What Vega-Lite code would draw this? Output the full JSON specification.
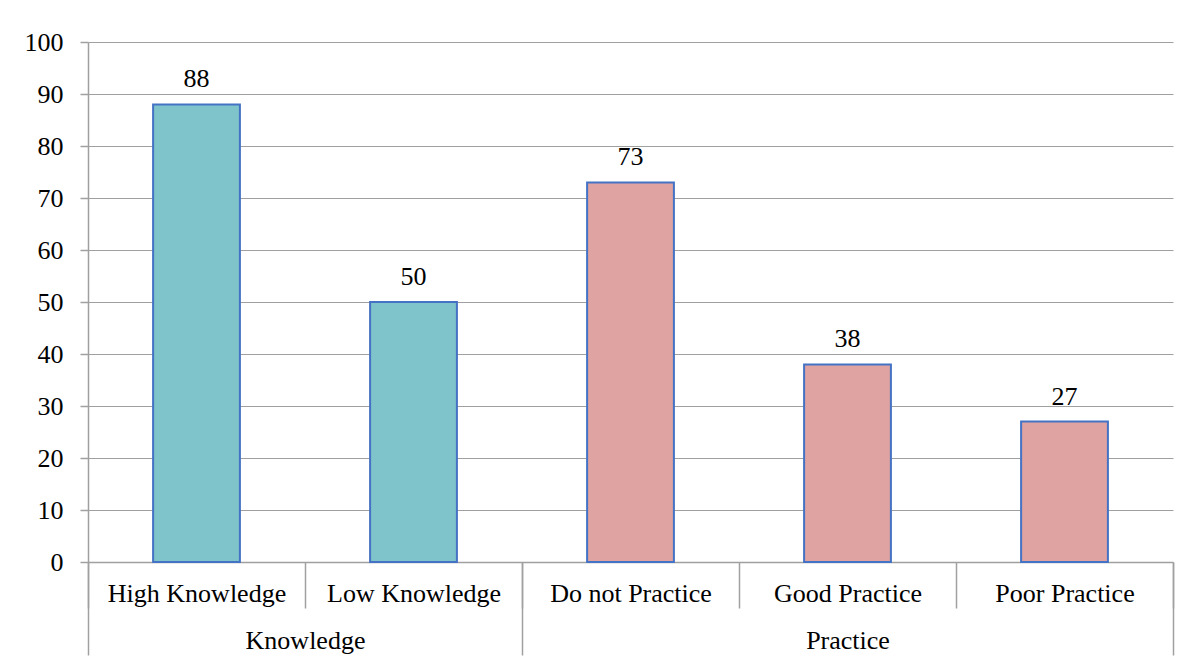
{
  "$schema": "https://vega.github.io/schema/vega-lite/v6.json",
  "width": 1085,
  "height": 520,
  "autosize": {"type": "none"},
  "padding": {"left": 88, "top": 42, "right": 16, "bottom": 100},
  "background": "white",
  "config": {
    "view": {"stroke": null},
    "font": "Liberation Serif",
    "text": {"font": "Liberation Serif"},
    "axis": {"labelFont": "Liberation Serif", "labelFontSize": 26, "labelColor": "black", "domainColor": "#a0a0a0", "tickColor": "#a0a0a0", "gridColor": "#a0a0a0", "domainWidth": 1.5, "tickWidth": 1.5, "gridWidth": 1.2}
  },
  "data": {
    "values": [
      {"category": "High Knowledge", "group": "Knowledge", "value": 88},
      {"category": "Low Knowledge", "group": "Knowledge", "value": 50},
      {"category": "Do not Practice", "group": "Practice", "value": 73},
      {"category": "Good Practice", "group": "Practice", "value": 38},
      {"category": "Poor Practice", "group": "Practice", "value": 27}
    ]
  },
  "resolve": {"axis": {"x": "independent"}},
  "layer": [
    {
      "mark": {"type": "bar", "width": {"band": 0.4}, "stroke": "#4472c4", "strokeWidth": 2},
      "encoding": {
        "x": {
          "field": "category", "type": "nominal", "sort": null,
          "scale": {"paddingInner": 0, "paddingOuter": 0},
          "axis": {"title": null, "orient": "bottom", "labelAngle": 0, "tickBand": "extent", "tickSize": 46, "labelPadding": -27.5, "labelOverlap": false, "labelBound": false}
        },
        "y": {
          "field": "value", "type": "quantitative",
          "scale": {"domain": [0, 100], "nice": false},
          "axis": {"title": null, "values": [0, 10, 20, 30, 40, 50, 60, 70, 80, 90, 100], "grid": true, "tickSize": 8, "labelPadding": 17, "domain": true}
        },
        "fill": {
          "field": "group", "type": "nominal",
          "scale": {"domain": ["Knowledge", "Practice"], "range": ["#7ec4ca", "#dfa3a2"]},
          "legend": null
        }
      }
    },
    {
      "mark": {"type": "text", "baseline": "alphabetic", "dy": -17, "fontSize": 26, "font": "Liberation Serif", "color": "black"},
      "encoding": {
        "x": {
          "field": "category", "type": "nominal", "sort": null,
          "axis": {
            "title": null, "orient": "bottom", "labelAngle": 0, "tickBand": "extent", "tickSize": 93, "labelPadding": -27.5, "labelOverlap": false, "labelBound": false, "domain": false,
            "labelExpr": "datum.value == 'High Knowledge' ? 'Knowledge' : datum.value == 'Good Practice' ? 'Practice' : ''",
            "labelOffset": {"condition": {"test": "datum.value == 'High Knowledge'", "value": 108.5}, "value": 0},
            "tickOpacity": {"condition": {"test": "datum.value == 'High Knowledge' || datum.value == 'Do not Practice' || datum.value == 'Good Practice'", "value": 0}, "value": 1}
          }
        },
        "y": {"field": "value", "type": "quantitative"},
        "text": {"field": "value", "type": "quantitative"}
      }
    }
  ]
}
